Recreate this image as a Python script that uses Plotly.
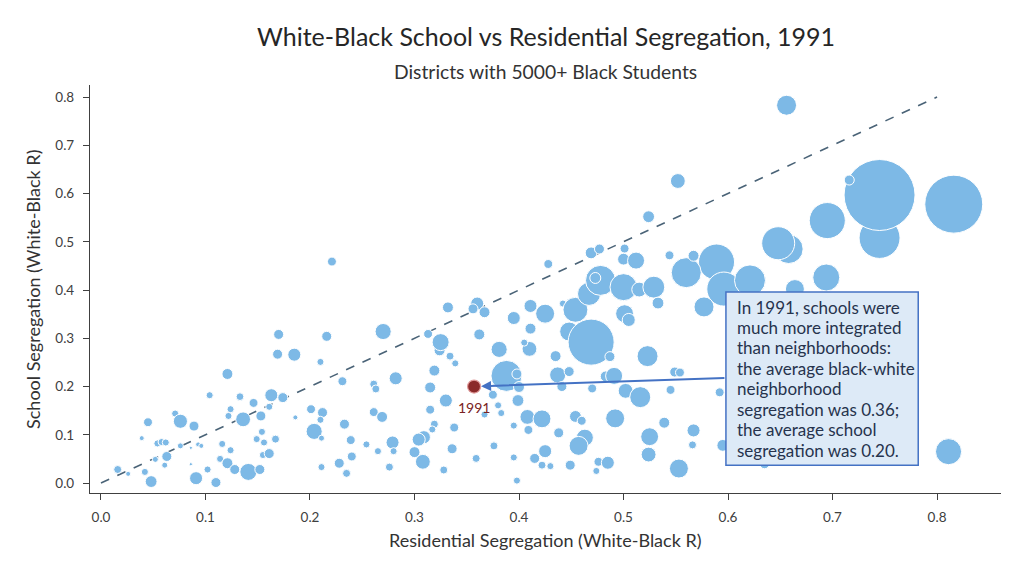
import plotly.graph_objects as go

# Residential segregation (x), school segregation (y), district enrollment (thousands)
residential = [
    0.169, 0.185, 0.210, 0.121, 0.104, 0.133, 0.163, 0.174, 0.146, 0.161,
    0.124, 0.122, 0.136, 0.153, 0.045, 0.071, 0.076, 0.089, 0.039, 0.054,
    0.058, 0.062, 0.076, 0.086, 0.093, 0.096, 0.063, 0.052, 0.061, 0.086,
    0.016, 0.026, 0.042, 0.048, 0.091, 0.102, 0.110, 0.114, 0.121, 0.128,
    0.141, 0.152, 0.116, 0.124, 0.149, 0.154, 0.156, 0.167, 0.155, 0.161,
    0.186, 0.201, 0.212, 0.210, 0.204, 0.211, 0.211, 0.221, 0.170, 0.216,
    0.270, 0.231, 0.261, 0.263, 0.282, 0.261, 0.269, 0.233, 0.279, 0.239,
    0.254, 0.265, 0.280, 0.240, 0.228, 0.235, 0.276, 0.300, 0.324, 0.334,
    0.339, 0.381, 0.410, 0.405, 0.435, 0.388, 0.398, 0.400, 0.399, 0.319,
    0.315, 0.330, 0.375, 0.380, 0.383, 0.367, 0.315, 0.338, 0.319, 0.317,
    0.309, 0.304, 0.308, 0.328, 0.336, 0.359, 0.376, 0.395, 0.409, 0.408,
    0.422, 0.395, 0.398, 0.415, 0.425, 0.422, 0.430, 0.438, 0.360, 0.356,
    0.367, 0.332, 0.411, 0.425, 0.395, 0.411, 0.362, 0.313, 0.325, 0.428,
    0.469, 0.477, 0.442, 0.454, 0.467, 0.478, 0.473, 0.448, 0.455, 0.469,
    0.487, 0.523, 0.437, 0.448, 0.441, 0.470, 0.483, 0.491, 0.502, 0.516,
    0.545, 0.549, 0.554, 0.592, 0.454, 0.460, 0.492, 0.539, 0.567, 0.566,
    0.525, 0.524, 0.463, 0.457, 0.449, 0.476, 0.485, 0.474, 0.553, 0.595,
    0.635, 0.656, 0.552, 0.524, 0.745, 0.745, 0.816, 0.695, 0.716, 0.658,
    0.648, 0.694, 0.589, 0.596, 0.621, 0.560, 0.567, 0.544, 0.501, 0.500,
    0.512, 0.500, 0.515, 0.529, 0.533, 0.501, 0.505, 0.577, 0.664, 0.811,
]
school = [
    0.267, 0.266, 0.251, 0.226, 0.182, 0.179, 0.182, 0.177, 0.166, 0.158,
    0.153, 0.139, 0.132, 0.139, 0.126, 0.144, 0.128, 0.118, 0.093, 0.082,
    0.085, 0.084, 0.077, 0.073, 0.080, 0.077, 0.055, 0.049, 0.037, 0.039,
    0.028, 0.019, 0.023, 0.003, 0.010, 0.028, 0.001, 0.050, 0.041, 0.028,
    0.023, 0.028, 0.081, 0.068, 0.091, 0.106, 0.084, 0.091, 0.058, 0.061,
    0.136, 0.153, 0.146, 0.131, 0.107, 0.093, 0.033, 0.459, 0.308, 0.304,
    0.314, 0.211, 0.205, 0.195, 0.217, 0.147, 0.137, 0.122, 0.084, 0.089,
    0.080, 0.066, 0.066, 0.055, 0.041, 0.020, 0.033, 0.064, 0.275, 0.263,
    0.248, 0.277, 0.278, 0.291, 0.263, 0.222, 0.226, 0.199, 0.171, 0.233,
    0.198, 0.171, 0.183, 0.161, 0.145, 0.142, 0.152, 0.115, 0.122, 0.111,
    0.095, 0.090, 0.044, 0.027, 0.071, 0.051, 0.077, 0.119, 0.110, 0.137,
    0.133, 0.053, 0.005, 0.051, 0.066, 0.037, 0.035, 0.104, 0.372, 0.361,
    0.354, 0.364, 0.367, 0.351, 0.342, 0.320, 0.308, 0.309, 0.292, 0.454,
    0.477, 0.485, 0.372, 0.359, 0.392, 0.420, 0.425, 0.314, 0.290, 0.292,
    0.262, 0.263, 0.224, 0.231, 0.200, 0.196, 0.221, 0.222, 0.191, 0.178,
    0.193, 0.230, 0.229, 0.188, 0.138, 0.129, 0.134, 0.125, 0.109, 0.079,
    0.096, 0.059, 0.094, 0.077, 0.037, 0.044, 0.042, 0.025, 0.030, 0.078,
    0.040, 0.783, 0.626, 0.552, 0.508, 0.597, 0.578, 0.544, 0.628, 0.485,
    0.497, 0.426, 0.458, 0.402, 0.420, 0.436, 0.471, 0.472, 0.486, 0.464,
    0.461, 0.406, 0.401, 0.406, 0.373, 0.351, 0.338, 0.365, 0.402, 0.065,
]
enrollment_k = [
    10, 17, 5, 12, 5, 6, 17, 10, 8, 5,
    5, 5, 22, 10, 8, 5, 20, 10, 2.5, 5,
    5, 5, 3.6, 1, 2.5, 2.5, 10, 3.6, 3.6, 1,
    6.4, 2.5, 5, 14, 17, 5, 10, 5, 12, 10,
    29, 10, 5, 5, 5, 5, 5, 6.4, 5, 10,
    2.5, 8, 10, 5, 26, 3.6, 5, 8, 10, 10,
    26, 8, 6.4, 6.4, 17, 8, 12, 10, 17, 8,
    5, 5, 5, 8, 10, 6.4, 6.4, 12, 12, 6.4,
    5, 26, 22, 5, 12, 96, 10, 12, 14, 12,
    12, 17, 8, 5, 5, 5, 8, 8, 6.4, 5,
    17, 17, 22, 6.4, 10, 6.4, 6.4, 5, 8, 22,
    32, 5, 5, 10, 17, 6.4, 5, 10, 17, 10,
    12, 12, 17, 36, 17, 12, 12, 8, 29, 8,
    14, 10, 5, 62, 53, 90, 12, 36, 17, 212,
    10, 44, 26, 10, 10, 8, 12, 29, 22, 44,
    8, 10, 8, 8, 14, 8, 36, 12, 17, 6.4,
    32, 22, 29, 36, 10, 8, 17, 5, 36, 14,
    10, 40, 22, 14, 168, 504, 336, 130, 10, 84,
    109, 73, 130, 116, 96, 90, 12, 8, 8, 14,
    29, 73, 22, 48, 14, 32, 17, 40, 36, 68,
]

avg_year = ["1991"]
avg_residential = [0.357]
avg_school = [0.200]

diag_x = [0.0, 0.8]
diag_y = [0.0, 0.8]

tick_vals = [0.0, 0.1, 0.2, 0.3, 0.4, 0.5, 0.6, 0.7, 0.8]

box_x = [0.598, 0.782]
box_y = [0.037, 0.396]

note_lines = [
    "In 1991, schools were",
    "much more integrated",
    "than neighborhoods:",
    "the average black-white",
    "neighborhood",
    "segregation was 0.36;",
    "the average school",
    "segregation was 0.20.",
]

FONT = "Lato, 'Open Sans', sans-serif"

fig = go.Figure()

fig.add_trace(go.Scatter(
    x=diag_x, y=diag_y, mode="lines",
    line=dict(color="#4a6377", width=1.6, dash="dash"),
    hoverinfo="skip", showlegend=False,
))

fig.add_trace(go.Scatter(
    x=residential, y=school, mode="markers",
    marker=dict(size=enrollment_k, sizemode="area", sizeref=0.2, sizemin=1,
                color="#7DB9E6", opacity=1, line=dict(color="white", width=1)),
    showlegend=False,
))

fig.add_trace(go.Scatter(
    x=avg_residential, y=avg_school, mode="markers",
    marker=dict(size=13, color="#8B2A2A", line=dict(color="#e09a9a", width=1.2)),
    showlegend=False,
))

fig.add_annotation(x=avg_residential[0], y=avg_school[0], xref="x", yref="y",
                   text=avg_year[0], showarrow=False, yshift=-21,
                   xanchor="center", yanchor="middle",
                   font=dict(family=FONT, size=14, color="#7a2222"))

fig.add_shape(type="rect", xref="x", yref="y",
              x0=box_x[0], x1=box_x[1], y0=box_y[0], y1=box_y[1],
              fillcolor="#DDEAF7", line=dict(color="#4472C4", width=1.5),
              layer="above")

line_top = 0.3648
line_step = 0.04238
for i, ln in enumerate(note_lines):
    fig.add_annotation(x=box_x[0] + 0.0085, y=line_top - i * line_step,
                       xref="x", yref="y", text=ln, showarrow=False,
                       xanchor="left", yanchor="middle", align="left",
                       font=dict(family=FONT, size=17, color="#26334d"))

fig.add_annotation(x=avg_residential[0], y=avg_school[0], xref="x", yref="y",
                   ax=box_x[0], ay=0.218, axref="x", ayref="y",
                   text="", showarrow=True, arrowhead=2, arrowsize=1,
                   arrowwidth=2, arrowcolor="#4472C4", standoff=7)

fig.add_annotation(x=0.5, y=1.12, xref="paper", yref="paper",
                   text="White-Black School vs Residential Segregation, 1991",
                   showarrow=False, xanchor="center", yanchor="middle",
                   font=dict(family=FONT, size=25, color="#262626"))
fig.add_annotation(x=0.5, y=1.032, xref="paper", yref="paper",
                   text="Districts with 5000+ Black Students",
                   showarrow=False, xanchor="center", yanchor="middle",
                   font=dict(family=FONT, size=19.3, color="#333333"))
fig.add_annotation(x=0.5, y=-0.115, xref="paper", yref="paper",
                   text="Residential Segregation (White-Black R)",
                   showarrow=False, xanchor="center", yanchor="middle",
                   font=dict(family=FONT, size=18, color="#333333"))
fig.add_annotation(x=-0.0626, y=0.5, xref="paper", yref="paper",
                   text="School Segregation (White-Black R)", textangle=-90,
                   showarrow=False, xanchor="center", yanchor="middle",
                   font=dict(family=FONT, size=18, color="#333333"))

axis_common = dict(
    showline=True, linecolor="#404040", linewidth=1.2,
    ticks="outside", ticklen=6, tickcolor="#404040", tickwidth=1,
    tickvals=tick_vals, tickformat=".1f", showgrid=False, zeroline=False,
    ticklabelstandoff=6,
    tickfont=dict(family=FONT, size=13.5, color="#404040"),
)

fig.update_layout(
    width=1024, height=576,
    margin=dict(l=82, r=31, t=77, b=91),
    paper_bgcolor="white", plot_bgcolor="white",
    xaxis=dict(range=[-0.0105, 0.8612], **axis_common),
    yaxis=dict(range=[-0.0207, 0.825], **axis_common),
    font=dict(family=FONT),
)

fig.write_html("out.html")
